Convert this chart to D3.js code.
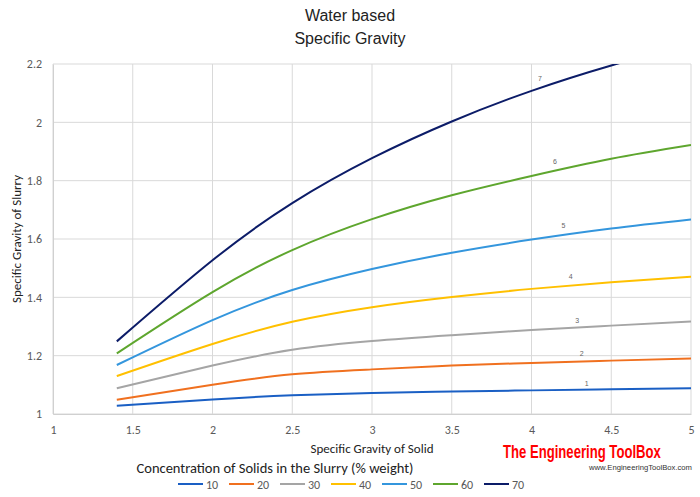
<!DOCTYPE html>
<html lang="en">
<head>
  <meta charset="UTF-8">
  <title>Water based - Specific Gravity</title>
  <style>
    body { margin: 0; background: #fff; }
    .tick text { font-family: Carlito, Lato, sans-serif; font-size: 12px; fill: #595959; }
    .axis-title { font-family: Carlito, Lato, sans-serif; font-size: 13px; fill: #222; }
    .curve-label { font-family: "Liberation Sans", Arial, sans-serif; font-size: 7px; fill: #666; }
  </style>
</head>
<body>
  <svg id="chart" width="700" height="497"></svg>

  <script src="https://d3js.org/d3.v7.min.js"></script>
  <script>
    // data
    const sgSolid = [1.4, 2, 2.5, 3, 3.5, 4, 4.5, 5];
    const concentrations = ["10", "20", "30", "40", "50", "60", "70"];
    const slurry10 = [1.028, 1.05, 1.064, 1.072, 1.077, 1.081, 1.085, 1.088];
    const slurry20 = [1.049, 1.1, 1.136, 1.153, 1.166, 1.175, 1.183, 1.19];
    const slurry30 = [1.088, 1.166, 1.22, 1.25, 1.27, 1.288, 1.303, 1.317];
    const slurry40 = [1.13, 1.24, 1.316, 1.366, 1.401, 1.429, 1.452, 1.471];
    const slurry50 = [1.168, 1.322, 1.425, 1.497, 1.553, 1.598, 1.636, 1.667];
    const slurry60 = [1.208, 1.418, 1.562, 1.668, 1.75, 1.816, 1.875, 1.922];
    const slurry70 = [1.249, 1.527, 1.723, 1.877, 2.003, 2.108, 2.195, 2.27];
    const xTicks = [1, 1.5, 2, 2.5, 3, 3.5, 4, 4.5, 5];
    const yTicks = [1, 1.2, 1.4, 1.6, 1.8, 2, 2.2];
    // small numbered labels next to the curves (data units)
    const curveLabels = ["1", "2", "3", "4", "5", "6", "7"];
    const labelSolid = [4.346, 4.315, 4.287, 4.246, 4.2, 4.147, 4.053];
    const labelSlurry = [1.106, 1.206, 1.322, 1.47, 1.648, 1.867, 2.149];

    const colors = ["#1a5fc4", "#f0701f", "#a5a5a5", "#ffc000", "#3496dd", "#5ea62e", "#0c1c68"];
    const seriesValues = [slurry10, slurry20, slurry30, slurry40, slurry50, slurry60, slurry70];

    const svg = d3.select("#chart");
    const plotLeft = 53, plotRight = 691, plotTop = 64, plotBottom = 414;

    const x = d3.scaleLinear().domain([1, 5]).range([plotLeft, plotRight]);
    const y = d3.scaleLinear().domain([1, 2.2]).range([plotBottom, plotTop]);

    // titles
    svg.append("text")
      .attr("x", 350).attr("y", 21)
      .attr("text-anchor", "middle")
      .attr("font-family", "'Liberation Sans', Arial, sans-serif")
      .attr("font-size", "16px").attr("fill", "#222")
      .text("Water based");
    svg.append("text")
      .attr("x", 350).attr("y", 44)
      .attr("text-anchor", "middle")
      .attr("font-family", "'Liberation Sans', Arial, sans-serif")
      .attr("font-size", "16px").attr("fill", "#222")
      .text("Specific Gravity");

    // grid
    svg.append("g").selectAll("line")
      .data(yTicks)
      .enter().append("line")
      .attr("x1", plotLeft).attr("x2", plotRight)
      .attr("y1", d => y(d)).attr("y2", d => y(d))
      .attr("stroke", "#d9d9d9").attr("stroke-width", 1);
    svg.append("g").selectAll("line")
      .data(xTicks)
      .enter().append("line")
      .attr("x1", d => x(d)).attr("x2", d => x(d))
      .attr("y1", plotTop).attr("y2", plotBottom)
      .attr("stroke", "#d9d9d9").attr("stroke-width", 1);

    // axes (labels only)
    const fmt = d3.format("~g");
    const xAxis = svg.append("g")
      .attr("transform", `translate(0, ${plotBottom})`)
      .call(d3.axisBottom(x).tickValues(xTicks).tickFormat(fmt).tickSize(0).tickPadding(11));
    xAxis.select(".domain").attr("stroke", "#d0d0d0");

    const yAxis = svg.append("g")
      .attr("transform", `translate(${plotLeft}, 0)`)
      .call(d3.axisLeft(y).tickValues(yTicks).tickFormat(fmt).tickSize(0).tickPadding(11));
    yAxis.select(".domain").attr("stroke", "#d0d0d0");

    svg.append("text")
      .attr("class", "axis-title")
      .attr("x", (plotLeft + plotRight) / 2).attr("y", 453)
      .attr("text-anchor", "middle")
      .text("Specific Gravity of Solid");
    svg.append("text")
      .attr("class", "axis-title")
      .attr("transform", `translate(21, ${(plotTop + plotBottom) / 2}) rotate(-90)`)
      .attr("text-anchor", "middle")
      .text("Specific Gravity of Slurry");

    // curves
    svg.append("clipPath").attr("id", "plot-clip")
      .append("rect")
      .attr("x", plotLeft).attr("y", plotTop)
      .attr("width", plotRight - plotLeft).attr("height", plotBottom - plotTop);

    const line = d3.line()
      .x((d, i) => x(sgSolid[i]))
      .y(d => y(d))
      .curve(d3.curveNatural);

    svg.append("g")
      .attr("clip-path", "url(#plot-clip)")
      .selectAll("path")
      .data(seriesValues)
      .enter().append("path")
      .attr("d", d => line(d))
      .attr("fill", "none")
      .attr("stroke", (d, i) => colors[i])
      .attr("stroke-width", 2);

    svg.append("g").selectAll("text")
      .data(curveLabels)
      .enter().append("text")
      .attr("class", "curve-label")
      .attr("x", (d, i) => x(labelSolid[i]))
      .attr("y", (d, i) => y(labelSlurry[i]) + 2.5)
      .attr("text-anchor", "middle")
      .text(d => d);

    // legend
    svg.append("text")
      .attr("x", 275).attr("y", 473)
      .attr("text-anchor", "middle")
      .attr("font-family", "Carlito, Lato, sans-serif")
      .attr("font-size", "14.5px").attr("fill", "#222")
      .text("Concentration of Solids in the Slurry (% weight)");

    const legend = svg.append("g").selectAll("g")
      .data(concentrations)
      .enter().append("g")
      .attr("transform", (d, i) => `translate(${178 + i * 51}, 484)`);
    legend.append("line")
      .attr("x1", 0).attr("x2", 25)
      .attr("stroke", (d, i) => colors[i])
      .attr("stroke-width", 2);
    legend.append("text")
      .attr("x", 28).attr("y", 4.5)
      .attr("font-family", "Carlito, Lato, sans-serif")
      .attr("font-size", "12px").attr("fill", "#595959")
      .text(d => d);

    // logo (narrowed with a horizontal scale)
    svg.append("text")
      .attr("transform", "translate(503, 458) scale(0.75, 1)")
      .attr("font-family", "'Liberation Sans Narrow', 'Liberation Sans', sans-serif")
      .attr("font-weight", "bold")
      .attr("font-size", "17.5px").attr("fill", "#ff0000")
      .text("The Engineering ToolBox");
    svg.append("text")
      .attr("x", 589).attr("y", 469.5)
      .attr("font-family", "'Liberation Sans', Arial, sans-serif")
      .attr("font-size", "7px").attr("fill", "#333")
      .attr("textLength", 103).attr("lengthAdjust", "spacingAndGlyphs")
      .text("www.EngineeringToolBox.com");
  </script>
</body>
</html>
